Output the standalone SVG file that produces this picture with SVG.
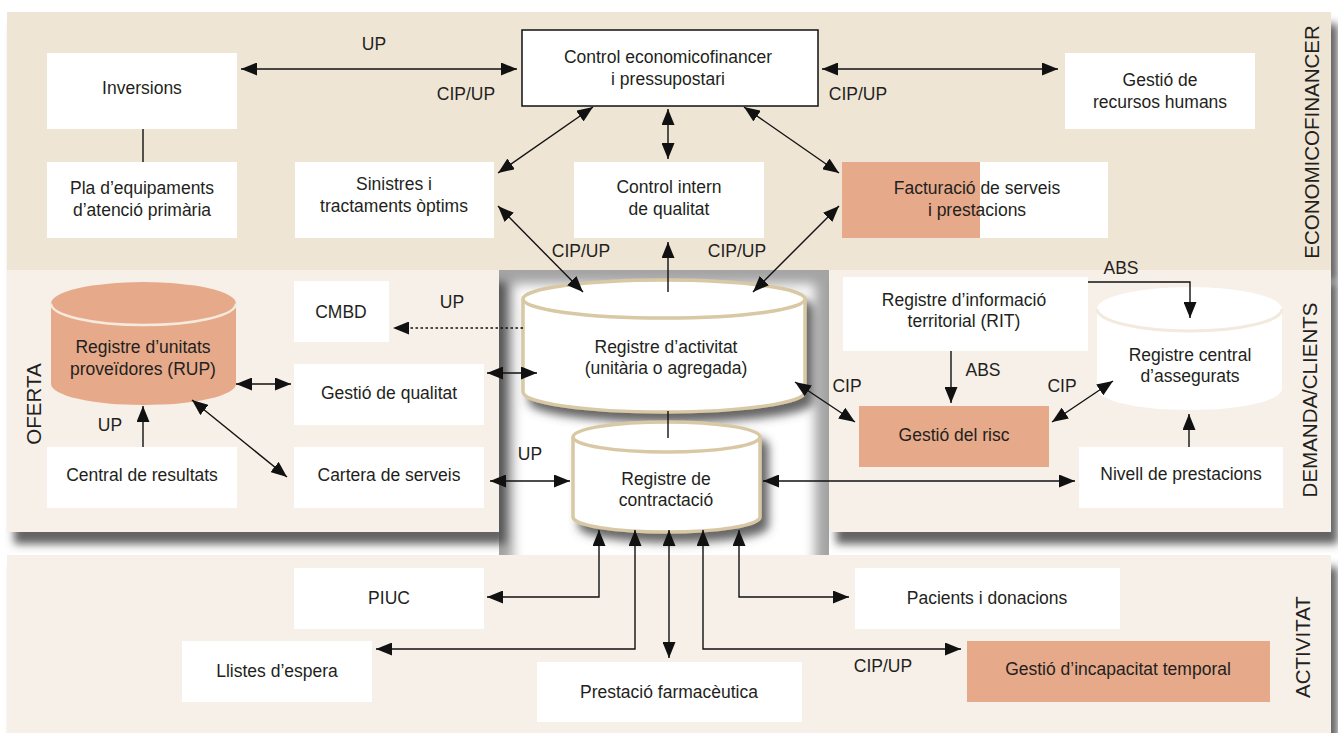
<svg xmlns="http://www.w3.org/2000/svg" width="1338" height="733" viewBox="0 0 1338 733">
<style>
text{font-family:"Liberation Sans",Arial,sans-serif;font-size:17.5px;fill:#231f20;text-anchor:middle}
.vl{font-size:20.5px}
.box{fill:#ffffff}
.org{fill:#e6a98a}
.c{stroke:#111;stroke-width:1.4;fill:none}
.d{marker-start:url(#ah);marker-end:url(#ah)}
.s{marker-end:url(#ah)}
.cyl{fill:#ffffff;stroke:#d8c8a4;stroke-width:3.5}
</style>
<defs>
<marker id="ah" markerUnits="userSpaceOnUse" markerWidth="17" markerHeight="13" refX="16" refY="6.5" orient="auto-start-reverse">
<path d="M0,0 L16,6.5 L0,13 Z" fill="#111"/>
</marker>
<filter id="psh" x="-5%" y="-10%" width="115%" height="130%">
<feDropShadow dx="7" dy="12" stdDeviation="4" flood-color="#4a4a4a" flood-opacity="0.85"/>
</filter>
<filter id="csh" x="-15%" y="-20%" width="140%" height="160%">
<feDropShadow dx="7" dy="9" stdDeviation="5" flood-color="#555" flood-opacity="0.9"/>
</filter>
<filter id="blur" x="-10%" y="-10%" width="120%" height="120%">
<feGaussianBlur stdDeviation="6"/>
</filter>
<clipPath id="cc"><rect x="499" y="270" width="330" height="285"/></clipPath>
</defs>

<rect x="0" y="0" width="1338" height="733" fill="#ffffff"/>

<!-- panels -->
<g id="panel-economicofinancer">
<rect x="7" y="12" width="1324" height="258" fill="#efe5d5" filter="url(#psh)"/>
</g>
<g id="center-area" clip-path="url(#cc)">
<rect x="499" y="270" width="330" height="285" fill="#a4a4a4"/>
<rect x="513" y="284" width="302" height="330" fill="#ffffff" filter="url(#blur)"/>
</g>
<g id="panel-oferta">
<rect x="7" y="270" width="492" height="262" fill="#f7f0e8" filter="url(#psh)"/>
</g>
<g id="panel-demanda">
<rect x="829" y="270" width="502" height="262" fill="#f7f0e8" filter="url(#psh)"/>
</g>
<g id="panel-activitat">
<rect x="7" y="555" width="1324" height="180" fill="#f7f0e8" filter="url(#psh)"/>
</g>

<!-- section labels -->
<text class="vl" transform="translate(1319,142) rotate(-90)">ECONOMICOFINANCER</text>
<text class="vl" transform="translate(1317,400) rotate(-90)">DEMANDA/CLIENTS</text>
<text class="vl" transform="translate(1310,647) rotate(-90)">ACTIVITAT</text>
<text class="vl" transform="translate(41,404) rotate(-90)">OFERTA</text>

<!-- nodes: economicofinancer -->
<g id="inversions"><rect class="box" x="47" y="53" width="190" height="76"/><text x="142" y="94">Inversions</text></g>
<g id="pla-equipaments"><rect class="box" x="47" y="162" width="190" height="76"/><text x="142" y="194">Pla d’equipaments</text><text x="142" y="216">d’atenció primària</text></g>
<g id="control-economicofinancer"><rect x="522" y="30" width="296" height="76" fill="#fff" stroke="#111" stroke-width="1.5"/><text x="668" y="63">Control economicofinancer</text><text x="668" y="85">i pressupostari</text></g>
<g id="gestio-rh"><rect class="box" x="1065" y="53" width="190" height="76"/><text x="1160" y="86">Gestió de</text><text x="1160" y="108">recursos humans</text></g>
<g id="sinistres"><rect class="box" x="295" y="162" width="199" height="76"/><text x="394" y="190">Sinistres i</text><text x="394" y="212">tractaments òptims</text></g>
<g id="control-intern"><rect class="box" x="574" y="162" width="190" height="76"/><text x="669" y="193">Control intern</text><text x="669" y="215">de qualitat</text></g>
<g id="facturacio"><rect class="box" x="980" y="162" width="128" height="76"/><rect class="org" x="842" y="162" width="138" height="76"/><text x="977" y="194">Facturació de serveis</text><text x="977" y="216">i prestacions</text></g>

<!-- nodes: oferta -->
<g id="rup">
<path d="M51,303.5 V384 A92.5,21 0 0 0 236,384 V303.5 A92.5,21.5 0 0 0 51,303.5 Z" fill="#e6a98a"/>
<path d="M51,303.5 A92.5,21.5 0 0 0 236,303.5" fill="none" stroke="#f6eadc" stroke-width="2.5"/>
<text x="143" y="353">Registre d’unitats</text><text x="143" y="375">proveïdores (RUP)</text>
</g>
<g id="cmbd"><rect class="box" x="294" y="281" width="95" height="61"/><text x="341" y="318">CMBD</text></g>
<g id="gestio-qualitat"><rect class="box" x="294" y="364" width="190" height="61"/><text x="389" y="399">Gestió de qualitat</text></g>
<g id="central-resultats"><rect class="box" x="47" y="447" width="190" height="61"/><text x="142" y="481">Central de resultats</text></g>
<g id="cartera-serveis"><rect class="box" x="294" y="447" width="190" height="61"/><text x="389" y="481">Cartera de serveis</text></g>

<!-- nodes: center -->
<g id="registre-activitat">
<path class="cyl" filter="url(#csh)" d="M523,299 V392 A141,20 0 0 0 805,392 V299 A141,19 0 0 0 523,299 Z"/>
<path d="M523,299 A141,19 0 0 0 805,299" fill="none" stroke="#d8c8a4" stroke-width="3.5"/>
<text x="666" y="353">Registre d’activitat</text><text x="666" y="374">(unitària o agregada)</text>
</g>
<g id="registre-contractacio">
<path class="cyl" filter="url(#csh)" d="M573,437 V517 A93.5,15 0 0 0 760,517 V437 A93.5,15 0 0 0 573,437 Z"/>
<path d="M573,437 A93.5,15 0 0 0 760,437" fill="none" stroke="#d8c8a4" stroke-width="3.5"/>
<text x="666" y="485">Registre de</text><text x="666" y="506">contractació</text>
</g>

<!-- nodes: demanda -->
<g id="rit"><rect class="box" x="843" y="277" width="245" height="74"/><text x="964" y="306">Registre d’informació</text><text x="964" y="327">territorial (RIT)</text></g>
<g id="registre-central">
<path d="M1097,309 V389 A92.5,21 0 0 0 1282,389 V309 A92.5,22 0 0 0 1097,309 Z" fill="#ffffff"/>
<path d="M1097,309 A92.5,22 0 0 0 1282,309" fill="none" stroke="#f3eadf" stroke-width="3"/>
<text x="1190" y="361">Registre central</text><text x="1190" y="382">d’assegurats</text>
</g>
<g id="gestio-risc"><rect class="org" x="859" y="406" width="190" height="61"/><text x="954" y="441">Gestió del risc</text></g>
<g id="nivell-prestacions"><rect class="box" x="1079" y="447" width="204" height="61"/><text x="1181" y="480">Nivell de prestacions</text></g>

<!-- nodes: activitat -->
<g id="piuc"><rect class="box" x="294" y="568" width="190" height="61"/><text x="389" y="604">PIUC</text></g>
<g id="llistes-espera"><rect class="box" x="182" y="641" width="190" height="61"/><text x="277" y="677">Llistes d’espera</text></g>
<g id="prestacio-farmaceutica"><rect class="box" x="537" y="662" width="265" height="60"/><text x="669" y="698">Prestació farmacèutica</text></g>
<g id="pacients-donacions"><rect class="box" x="855" y="568" width="265" height="61"/><text x="987" y="604">Pacients i donacions</text></g>
<g id="gestio-incapacitat"><rect class="org" x="967" y="641" width="303" height="61"/><text x="1118" y="675">Gestió d’incapacitat temporal</text></g>

<!-- connectors -->
<g id="connectors">
<path class="c d" d="M241,69 H517"/>
<path class="c d" d="M822,69 H1058"/>
<path class="c" d="M143,129 V162"/>
<path class="c d" d="M593,107 L498,173"/>
<path class="c d" d="M668,109 V159"/>
<path class="c d" d="M744,107 L839,173"/>
<path class="c d" d="M498,206 L583,292"/>
<path class="c s" d="M668,292 V242"/>
<path class="c d" d="M839,206 L753,292"/>
<path class="c s" d="M523,328 H393" stroke-dasharray="2.5 2.5"/>
<path class="c d" d="M487,373 H537"/>
<path class="c d" d="M236,384 H291"/>
<path class="c d" d="M192,400 L287,477"/>
<path class="c s" d="M143,447 V406"/>
<path class="c d" d="M490,481 H570"/>
<path class="c" d="M668,411 V438"/>
<path class="c d" d="M795,382 L855,422"/>
<path class="c d" d="M763,481 H1075"/>
<path class="c s" d="M1088,282 H1190 V318"/>
<path class="c s" d="M951,351 V403"/>
<path class="c d" d="M1052,422 L1113,381"/>
<path class="c s" d="M1189,447 V414"/>
<path class="c d" d="M599,530 V597 H487"/>
<path class="c d" d="M635,530 V649 H376"/>
<path class="c d" d="M669,530 V658"/>
<path class="c d" d="M703,530 V649 H961"/>
<path class="c d" d="M739,530 V597 H849"/>
</g>

<!-- connector labels -->
<g id="labels">
<text x="374" y="50">UP</text>
<text x="466" y="100">CIP/UP</text>
<text x="858" y="100">CIP/UP</text>
<text x="581" y="257">CIP/UP</text>
<text x="737" y="257">CIP/UP</text>
<text x="452" y="308">UP</text>
<text x="110" y="431">UP</text>
<text x="530" y="460">UP</text>
<text x="847" y="392">CIP</text>
<text x="983" y="376">ABS</text>
<text x="1062" y="392">CIP</text>
<text x="1121" y="274">ABS</text>
<text x="883" y="672">CIP/UP</text>
</g>
</svg>
